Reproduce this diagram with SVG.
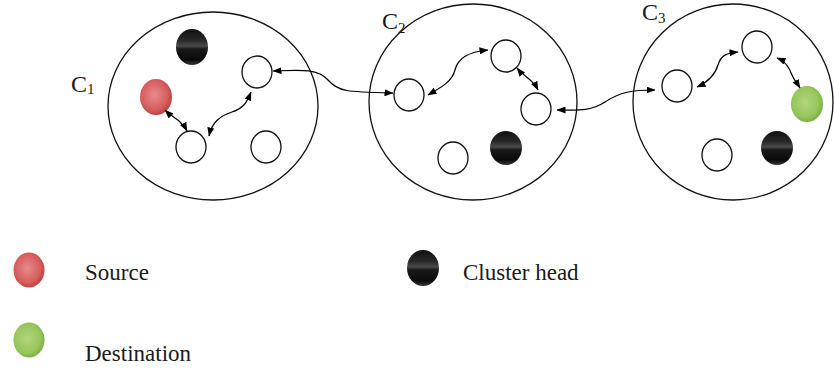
<svg xmlns="http://www.w3.org/2000/svg" width="834" height="371" viewBox="0 0 834 371">
<defs>
<radialGradient id="gRed" cx="0.45" cy="0.45" r="0.6">
<stop offset="0" stop-color="#e88a8a"/><stop offset="0.7" stop-color="#d65c5c"/><stop offset="1" stop-color="#b53a3a"/>
</radialGradient>
<radialGradient id="gGreen" cx="0.45" cy="0.45" r="0.6">
<stop offset="0" stop-color="#b2d57e"/><stop offset="0.7" stop-color="#96c55a"/><stop offset="1" stop-color="#77a83c"/>
</radialGradient>
<linearGradient id="gBlack" x1="0" y1="0" x2="0" y2="1">
<stop offset="0" stop-color="#111"/><stop offset="0.3" stop-color="#262626"/><stop offset="0.47" stop-color="#4a4a4a"/><stop offset="0.55" stop-color="#1a1a1a"/><stop offset="0.85" stop-color="#0a0a0a"/><stop offset="1" stop-color="#3a3a3a"/>
</linearGradient>
<marker id="ah" markerWidth="9" markerHeight="7" refX="8.5" refY="3.5" orient="auto-start-reverse" markerUnits="userSpaceOnUse">
<path d="M0,0 L9,3.5 L0,7 Z" fill="#000"/>
</marker>
</defs>
<style>
.cl{fill:none;stroke:#111;stroke-width:1.3}
.wn{fill:#fff;stroke:#111;stroke-width:1.3}
.red{fill:url(#gRed)}
.grn{fill:url(#gGreen)}
.blk{fill:url(#gBlack)}
.lbl{font-family:"Liberation Serif","Times New Roman",serif;font-size:24px;fill:#1a1a1a}
.sub{font-size:15px}
.lg{font-family:"Liberation Serif","Times New Roman",serif;font-size:23px;fill:#1a1a1a}
.cn{fill:none;stroke:#000;stroke-width:1.2;marker-start:url(#ah);marker-end:url(#ah)}
</style>
<rect width="834" height="371" fill="#fff"/>

<g id="cluster-c1">
<ellipse class="cl" cx="213" cy="106" rx="105" ry="94"/>
<text class="lbl" x="71" y="92">C<tspan class="sub" dy="2">1</tspan></text>
<g id="c1-head"><ellipse class="blk" cx="192" cy="47" rx="16" ry="18"/></g>
<g id="c1-source"><ellipse class="red" cx="156" cy="97" rx="16" ry="18"/></g>
<g id="c1-n1"><ellipse class="wn" cx="257" cy="72" rx="15" ry="16"/></g>
<g id="c1-n2"><ellipse class="wn" cx="191" cy="147" rx="15" ry="16"/></g>
<g id="c1-n3"><ellipse class="wn" cx="266" cy="147" rx="15" ry="16"/></g>
</g>

<g id="cluster-c2">
<ellipse class="cl" cx="473" cy="102" rx="104" ry="98"/>
<text class="lbl" x="382" y="29">C<tspan class="sub" dy="4">2</tspan></text>
<g id="c2-n1"><ellipse class="wn" cx="409" cy="95" rx="15" ry="16"/></g>
<g id="c2-n2"><ellipse class="wn" cx="506" cy="56" rx="15" ry="16"/></g>
<g id="c2-n3"><ellipse class="wn" cx="536" cy="109" rx="15" ry="16"/></g>
<g id="c2-n4"><ellipse class="wn" cx="453" cy="158" rx="15" ry="16"/></g>
<g id="c2-head"><ellipse class="blk" cx="506" cy="148" rx="16" ry="17"/></g>
</g>

<g id="cluster-c3">
<ellipse class="cl" cx="733" cy="102" rx="100" ry="98"/>
<text class="lbl" x="642" y="20">C<tspan class="sub" dy="3">3</tspan></text>
<g id="c3-n1"><ellipse class="wn" cx="677" cy="86" rx="15" ry="16"/></g>
<g id="c3-n2"><ellipse class="wn" cx="757" cy="47" rx="15" ry="16"/></g>
<g id="c3-dest"><ellipse class="grn" cx="807" cy="104" rx="16" ry="18"/></g>
<g id="c3-n3"><ellipse class="wn" cx="717" cy="155" rx="15" ry="16"/></g>
<g id="c3-head"><ellipse class="blk" cx="777" cy="148" rx="16" ry="17"/></g>
</g>

<g id="connectors">
<path class="cn" d="M165,110 C172,117 176,118 180,122 S185,127 187,131"/>
<path class="cn" d="M209,136 C212,122 220,116 232,112 S247,102 251,92"/>
<path class="cn" d="M273,71 C298,70 318,68 328,80 S348,92 393,93"/>
<path class="cn" d="M428,95 C440,88 452,82 455,70 S468,52 488,50"/>
<path class="cn" d="M517,68 C525,78 532,78 538,90"/>
<path class="cn" d="M557,110 C575,110 590,112 605,102 S632,90 655,90"/>
<path class="cn" d="M697,87 C708,82 715,75 718,65 S727,53 738,52"/>
<path class="cn" d="M777,58 C787,62 790,70 792,75 S797,83 800,88"/>
</g>

<g id="legend">
<g id="legend-source"><ellipse class="red" cx="29" cy="270" rx="15.5" ry="17.5"/><text class="lg" x="85" y="280">Source</text></g>
<g id="legend-dest"><ellipse class="grn" cx="29" cy="340" rx="15.5" ry="17.5"/><text class="lg" x="85" y="361">Destination</text></g>
<g id="legend-head"><ellipse class="blk" cx="423" cy="268" rx="16" ry="18"/><text class="lg" x="463" y="280">Cluster head</text></g>
</g>
</svg>
